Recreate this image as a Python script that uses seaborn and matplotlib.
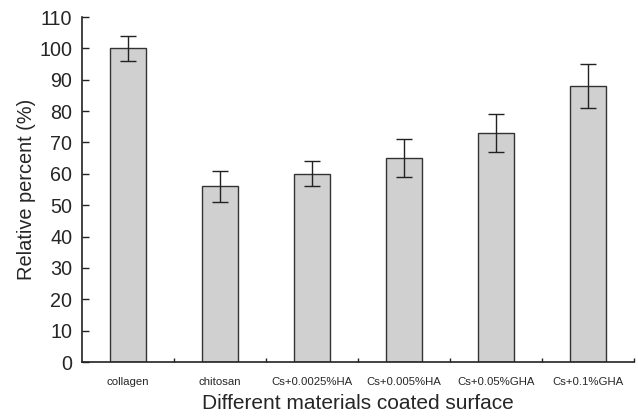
import matplotlib
matplotlib.use("Agg")
import matplotlib.pyplot as plt
import seaborn as sns
import numpy as np
import pandas as pd

categories = ["collagen", "chitosan", "Cs+0.0025%HA", "Cs+0.005%HA", "Cs+0.05%GHA", "Cs+0.1%GHA"]
values = [100, 56, 60, 65, 73, 88]
errors = [4, 5, 4, 6, 6, 7]
yticks = list(range(0, 111, 10))

sns.set_style("white")
plt.rcParams['font.family'] = ['Liberation Sans', 'DejaVu Sans']

df = pd.DataFrame({"material": categories, "percent": values})

fig = plt.figure(figsize=(6.38, 4.19), dpi=100)
ax = fig.add_axes([82/638, 57/419, (634-82)/638, (362-17)/419])

sns.barplot(data=df, x="material", y="percent", ax=ax, width=0.4,
            color="#d0d0d0", saturation=1, edgecolor="#333333", linewidth=1.0)
ax.errorbar(np.arange(len(categories)), values, yerr=errors, fmt="none",
            ecolor="#222222", elinewidth=1.0, capsize=5.8, capthick=1.0)

ax.set_ylim(0, 110)
ax.set_xlim(-0.5, len(categories) - 0.5)
ax.set_yticks(yticks)
ax.set_yticklabels([str(t) for t in yticks], fontsize=14.2)
ax.tick_params(axis="y", direction="in", length=5, width=1, color="#222222", pad=7, left=True)
ax.set_xticks(np.arange(len(categories)))
ax.set_xticklabels(categories, fontsize=8.2)
ax.tick_params(axis="x", which="major", length=0, pad=11)
ax.set_xticks(np.arange(len(categories)) + 0.5, minor=True)
ax.tick_params(axis="x", which="minor", direction="in", length=3, width=1, color="#222222", bottom=True)

for s in ["top", "right"]:
    ax.spines[s].set_visible(False)
for s in ["left", "bottom"]:
    ax.spines[s].set_color("#222222")
    ax.spines[s].set_linewidth(1.2)

ax.set_xlabel("Different materials coated surface", fontsize=15, labelpad=5)
ax.set_ylabel("Relative percent (%)", fontsize=14.4, labelpad=2)

fig.savefig("out.png", dpi=100)
